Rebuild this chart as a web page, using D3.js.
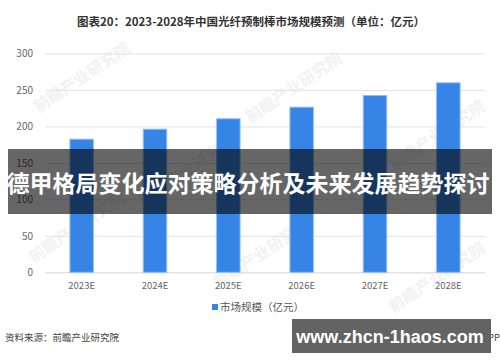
<!DOCTYPE html>
<html>
<head>
<meta charset="utf-8">
<script src="https://cdn.jsdelivr.net/npm/d3@7"></script>
<style>
  body { margin: 0; background: #fff; }
  svg { display: block; font-family: "Noto Sans CJK SC", "Noto Sans", sans-serif; }
</style>
</head>
<body>
<div id="chart"></div>
<script>
// data
var years = ["2023E", "2024E", "2025E", "2026E", "2027E", "2028E"];
var marketSize = [182.5, 196.2, 210.5, 226.4, 242.4, 259.8];
var yTicks = [0, 50, 100, 150, 200, 250, 300];

var W = 500, H = 362;
var margin = { top: 53.5, right: 15, bottom: 90, left: 45 },
  width = W - margin.left - margin.right,
  height = 272.3 - margin.top;

var svg = d3.select("#chart")
  .append("svg")
  .attr("width", W)
  .attr("height", H);

// title
svg.append("text")
  .attr("x", 251)
  .attr("y", 26)
  .attr("text-anchor", "middle")
  .attr("font-size", 11.5)
  .attr("font-weight", "bold")
  .attr("fill", "#333")
  .text("图表20：2023-2028年中国光纤预制棒市场规模预测（单位：亿元）");

// faint watermarks
var marks = [[85, 82], [297, 92], [440, 140], [80, 232], [265, 258], [440, 282], [190, 175]];
svg.append("g").selectAll("text")
  .data(marks)
  .enter().append("text")
  .attr("transform", function (d) { return "translate(" + d[0] + "," + d[1] + ") rotate(-34)"; })
  .attr("text-anchor", "middle")
  .attr("font-size", 16)
  .attr("font-weight", "bold")
  .attr("fill", "#f2f2f2")
  .text("前瞻产业研究院");

var g = svg.append("g")
  .attr("transform", "translate(" + margin.left + "," + margin.top + ")");

var x = d3.scaleBand()
  .domain(years)
  .range([0, width])
  .paddingInner(0.68)
  .paddingOuter(0.34);

var y = d3.scaleLinear()
  .domain([0, 300])
  .range([height, 0]);

// grid
g.append("g")
  .attr("class", "grid")
  .call(d3.axisLeft(y).tickValues(yTicks).tickSize(-width).tickFormat(""))
  .call(function (s) {
    s.select(".domain").remove();
    s.selectAll("line").attr("stroke", "#e3e3e3").attr("stroke-width", function (d) { return d === 0 ? 1.6 : 1; });
  });

// y labels
g.append("g")
  .call(d3.axisLeft(y).tickValues(yTicks).tickSize(0).tickPadding(12))
  .call(function (s) {
    s.select(".domain").remove();
    s.selectAll("text").attr("fill", "#666").attr("font-size", 10).attr("font-family", "Noto Sans CJK SC, sans-serif");
  });

// bars
g.selectAll("rect.bar")
  .data(marketSize)
  .enter().append("rect")
  .attr("class", "bar")
  .attr("x", function (d, i) { return x(years[i]); })
  .attr("y", function (d) { return y(d); })
  .attr("width", x.bandwidth())
  .attr("height", function (d) { return height - y(d); })
  .attr("fill", "#3584e6")
  .attr("stroke", "#8fbdf5")
  .attr("stroke-width", 1);

// x labels
g.append("g")
  .attr("transform", "translate(0," + height + ")")
  .call(d3.axisBottom(x).tickSize(0).tickPadding(10))
  .call(function (s) {
    s.select(".domain").remove();
    s.selectAll("text").attr("fill", "#666").attr("font-size", 9.5).attr("font-family", "Noto Sans CJK SC, sans-serif");
  });

// legend
svg.append("rect")
  .attr("x", 212).attr("y", 304)
  .attr("width", 6).attr("height", 6)
  .attr("fill", "#3584e6");
svg.append("text")
  .attr("x", 220).attr("y", 311)
  .attr("font-size", 10.5)
  .attr("fill", "#555")
  .text("市场规模（亿元）");

// source
svg.append("text")
  .attr("x", 5).attr("y", 341)
  .attr("font-size", 9.5)
  .attr("fill", "#444")
  .text("资料来源：前瞻产业研究院");

svg.append("text")
  .attr("x", 500).attr("y", 341)
  .attr("text-anchor", "end")
  .attr("font-size", 9.5)
  .attr("fill", "#444")
  .text("前瞻经济学人APP");

// headline overlay
svg.append("rect")
  .attr("x", 8).attr("y", 149)
  .attr("width", 484).attr("height", 65)
  .attr("fill", "rgba(0,0,0,0.6)");
svg.append("text")
  .attr("x", 248).attr("y", 192)
  .attr("text-anchor", "middle")
  .attr("font-size", 23)
  .attr("font-weight", "bold")
  .attr("fill", "#fff")
  .text("德甲格局变化应对策略分析及未来发展趋势探讨");

// site overlay
svg.append("rect")
  .attr("x", 292).attr("y", 319)
  .attr("width", 199).attr("height", 34)
  .attr("fill", "#636363");
svg.append("text")
  .attr("x", 390).attr("y", 343)
  .attr("text-anchor", "middle")
  .attr("font-family", "Liberation Sans, Arial, sans-serif")
  .attr("font-size", 18)
  .attr("font-weight", "bold")
  .attr("fill", "#fff")
  .text("www.zhcn-1haos.com");
</script>
</body>
</html>
